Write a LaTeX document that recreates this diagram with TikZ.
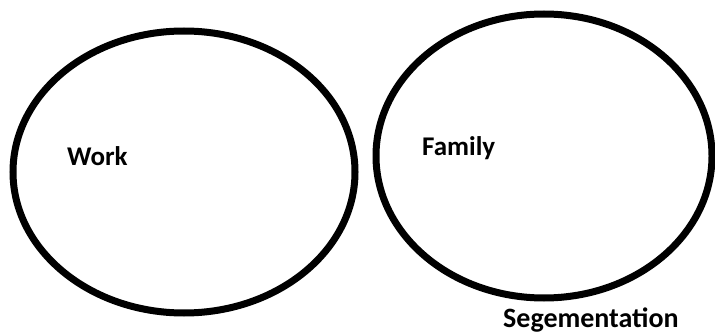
\documentclass[tikz,border=0pt]{standalone}
\usepackage{fontspec}
\setmainfont{Carlito}
\usepackage{tikz}
\usetikzlibrary{shapes.geometric}

\begin{document}
\begin{tikzpicture}[x=1pt, y=-1pt,
    vong/.style={draw, ellipse, line width=7pt, inner sep=0pt},
    nhan/.style={anchor=base west, inner sep=0pt, font=\fontsize{27}{30}\selectfont\bfseries}]
            % Khung hình
            \useasboundingbox (0, 0) rectangle (715, 334);
            
            % Hai vòng elip
            \node[vong, minimum width=342pt, minimum height=282pt] (work) at (184, 172) {};
            \node[vong, minimum width=336pt, minimum height=284pt] (family) at (544, 156) {};
            
            % Các nhãn
            \node[nhan] (worklabel) at (67, 165) {Work};
            \node[nhan] (familylabel) at (422, 156) {Family};
            \node[nhan, font=\fontsize{28}{30}\selectfont\bfseries] (seg) at (503, 327) {Segementation};
        \end{tikzpicture}
\end{document}
